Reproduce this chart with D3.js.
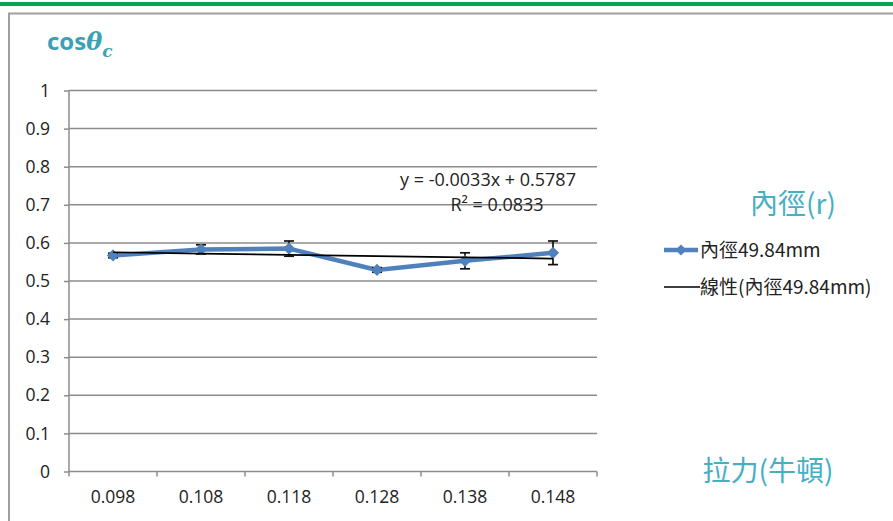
<!DOCTYPE html>
<html><head><meta charset="utf-8">
<script src="https://cdn.jsdelivr.net/npm/d3@7"></script>
<style>body{margin:0;background:#fff;}svg{display:block;}</style>
</head><body>
<svg id="chart" width="893" height="521"></svg>
<script>
const categories = ["0.098","0.108","0.118","0.128","0.138","0.148"];
const values = [0.567, 0.583, 0.585, 0.529, 0.553, 0.574];
const errors = [0.006, 0.012, 0.020, 0.006, 0.021, 0.031];
const yTicks = [0,0.1,0.2,0.3,0.4,0.5,0.6,0.7,0.8,0.9,1];
const trendSlope = -0.0033, trendIntercept = 0.5787;
const seriesName = "內徑49.84mm";
const trendName = "線性(內徑49.84mm)";
const equationText = "y = -0.0033x + 0.5787";
const r2Text = "R² = 0.0833";

(function(){
const svg = d3.select("#chart");
const font = "'Open Sans','Noto Sans CJK TC',sans-serif";
const cjk = "'Noto Sans CJK TC','Noto Sans',sans-serif";

// top green rule and frame
svg.append("rect").attr("x",0).attr("y",2).attr("width",893).attr("height",4).attr("fill","#00a651");
svg.append("path").attr("d","M9,530 V13.5 H893").attr("fill","none").attr("stroke","#a0a0a0").attr("stroke-width",2);

const pL=69, pR=597, pT=90.5, pB=471.5;
const x = d3.scaleBand().domain(categories).range([pL,pR]);
const y = d3.scaleLinear().domain([0,1]).range([pB,pT]);

// gridlines
svg.append("g").selectAll("line").data(yTicks.filter(d=>d>0)).join("line")
  .attr("x1",pL).attr("x2",pR).attr("y1",d=>y(d)).attr("y2",d=>y(d))
  .attr("stroke","#8c8c8c").attr("stroke-width",1.5);

// axes
const yAxis = d3.axisLeft(y).tickValues(yTicks).tickFormat(d=>String(+d.toFixed(1))).tickSize(5).tickPadding(14);
const gy = svg.append("g").attr("transform",`translate(${pL},0)`).call(yAxis);
gy.select(".domain").attr("stroke","#8c8c8c").attr("stroke-width",1.5).attr("d",`M0,${pB}V${pT}`);
gy.selectAll(".tick line").attr("stroke","#8c8c8c").attr("stroke-width",1.5);
gy.selectAll("text").attr("font-family",font).attr("font-size",17.5).attr("fill","#222");

const gx = svg.append("g").attr("transform",`translate(0,${pB})`);
gx.append("line").attr("x1",pL).attr("x2",pR).attr("stroke","#8c8c8c").attr("stroke-width",1.5);
const bounds = categories.map(c=>x(c)).concat([pR]);
gx.selectAll("line.tk").data(bounds).join("line").attr("class","tk")
  .attr("x1",d=>d).attr("x2",d=>d).attr("y1",0).attr("y2",5)
  .attr("stroke","#8c8c8c").attr("stroke-width",1.5);
gx.selectAll("text").data(categories).join("text")
  .attr("x",d=>x(d)+x.bandwidth()/2).attr("y",31).attr("text-anchor","middle")
  .attr("font-family",font).attr("font-size",17.5).attr("fill","#222").text(d=>d);

const cx = d=>x(d)+x.bandwidth()/2;
// series line
const line = d3.line().x((d,i)=>cx(categories[i])).y(d=>y(d));
svg.append("path").datum(values).attr("d",line).attr("fill","none")
  .attr("stroke","#4f81bd").attr("stroke-width",4.5).attr("stroke-linejoin","round");

// error bars
const eb = svg.append("g").attr("stroke","#111").attr("stroke-width",1.7);
values.forEach((v,i)=>{
  const xx = cx(categories[i]);
  eb.append("line").attr("x1",xx).attr("x2",xx).attr("y1",y(v+errors[i])).attr("y2",y(v-errors[i]));
  [v+errors[i], v-errors[i]].forEach(e=>eb.append("line").attr("x1",xx-5).attr("x2",xx+5).attr("y1",y(e)).attr("y2",y(e)));
});

// markers
svg.append("g").selectAll("path").data(values).join("path")
  .attr("transform",(d,i)=>`translate(${cx(categories[i])},${y(d)})`)
  .attr("d",d3.symbol(d3.symbolDiamond2,95)).attr("fill","#4f81bd");

// trend line
const trend = categories.map((c,i)=>trendIntercept + trendSlope*(i+1));
svg.append("path").datum(trend).attr("d",line).attr("fill","none").attr("stroke","#000").attr("stroke-width",1.7);

// equation
svg.append("text").attr("x",488).attr("y",186).attr("text-anchor","middle")
  .attr("font-family",font).attr("font-size",18).attr("fill","#222").text(equationText);
svg.append("text").attr("x",497).attr("y",211).attr("text-anchor","middle")
  .attr("font-family",font).attr("font-size",18).attr("fill","#222").text(r2Text);

// title
const t = svg.append("text").attr("x",47).attr("y",50).attr("fill","#3aa2b4")
  .attr("font-family",font).attr("font-size",24).attr("font-weight","bold");
t.append("tspan").text("cos");
t.append("tspan").attr("font-style","italic").attr("font-family","'DejaVu Serif',serif").attr("font-size",24).text("θ");
t.append("tspan").attr("font-style","italic").attr("font-family","'DejaVu Serif',serif").attr("font-size",17).attr("dy",7).text("c");

// right labels
svg.append("text").attr("x",793).attr("y",214).attr("text-anchor","middle")
  .attr("font-family",cjk).attr("font-size",28).attr("fill","#45b0c2").text("內徑(r)");
svg.append("text").attr("x",768).attr("y",481).attr("text-anchor","middle")
  .attr("font-family",cjk).attr("font-size",28).attr("fill","#45b0c2").text("拉力(牛頓)");

// legend
const lg = svg.append("g");
lg.append("line").attr("x1",664).attr("x2",698).attr("y1",250).attr("y2",250).attr("stroke","#4f81bd").attr("stroke-width",4.5);
lg.append("path").attr("transform","translate(681,250)").attr("d",d3.symbol(d3.symbolDiamond2,80)).attr("fill","#4f81bd");
lg.append("text").attr("x",700).attr("y",257).attr("font-family",cjk).attr("font-size",19).attr("fill","#222").text(seriesName);
lg.append("line").attr("x1",664).attr("x2",700).attr("y1",287).attr("y2",287).attr("stroke","#000").attr("stroke-width",1.7);
lg.append("text").attr("x",700).attr("y",294).attr("font-family",cjk).attr("font-size",19).attr("fill","#222").text(trendName);
})();
</script>
</body></html>
